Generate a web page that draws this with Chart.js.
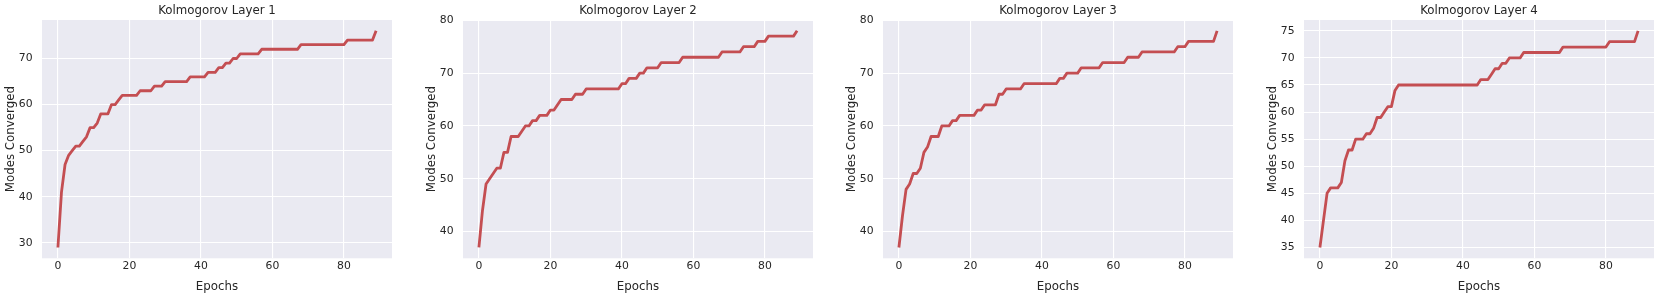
<!DOCTYPE html>
<html>
<head>
<meta charset="utf-8">
<script src="https://cdn.jsdelivr.net/npm/chart.js@4/dist/chart.umd.min.js"></script>
<style>
  html, body { margin: 0; padding: 0; background: #ffffff; overflow: hidden; }
  #wrap { position: relative; width: 1660px; height: 298px; }
  canvas { position: absolute; top: 0; }
</style>
</head>
<body>
<div id="wrap">
  <canvas id="c1"></canvas>
  <canvas id="c2"></canvas>
  <canvas id="c3"></canvas>
  <canvas id="c4"></canvas>
</div>
<script>
// ---- data ----
const epochs = Array.from({length: 90}, (_, i) => i);

const titles = ["Kolmogorov Layer 1", "Kolmogorov Layer 2", "Kolmogorov Layer 3", "Kolmogorov Layer 4"];

const layer1 = [29,41,47,49,50,51,51,52,53,55,
                55,56,58,58,58,60,60,61,62,62,
                62,62,62,63,63,63,63,64,64,64,
                65,65,65,65,65,65,65,66,66,66,
                66,66,67,67,67,68,68,69,69,70,
                70,71,71,71,71,71,71,72,72,72,
                72,72,72,72,72,72,72,72,73,73,
                73,73,73,73,73,73,73,73,73,73,
                73,74,74,74,74,74,74,74,74,76];

const layer2 = [37,44,49,50,51,52,52,55,55,58,
                58,58,59,60,60,61,61,62,62,62,
                63,63,64,65,65,65,65,66,66,66,
                67,67,67,67,67,67,67,67,67,67,
                68,68,69,69,69,70,70,71,71,71,
                71,72,72,72,72,72,72,73,73,73,
                73,73,73,73,73,73,73,73,74,74,
                74,74,74,74,75,75,75,75,76,76,
                76,77,77,77,77,77,77,77,77,78];

const layer3 = [37,43,48,49,51,51,52,55,56,58,
                58,58,60,60,60,61,61,62,62,62,
                62,62,63,63,64,64,64,64,66,66,
                67,67,67,67,67,68,68,68,68,68,
                68,68,68,68,68,69,69,70,70,70,
                70,71,71,71,71,71,71,72,72,72,
                72,72,72,72,73,73,73,73,74,74,
                74,74,74,74,74,74,74,74,75,75,
                75,76,76,76,76,76,76,76,76,78];

const layer4 = [35,40,45,46,46,46,47,51,53,53,
                55,55,55,56,56,57,59,59,60,61,
                61,64,65,65,65,65,65,65,65,65,
                65,65,65,65,65,65,65,65,65,65,
                65,65,65,65,65,66,66,66,67,68,
                68,69,69,70,70,70,70,71,71,71,
                71,71,71,71,71,71,71,71,72,72,
                72,72,72,72,72,72,72,72,72,72,
                72,73,73,73,73,73,73,73,73,75];

const series = [layer1, layer2, layer3, layer4];

const xTicks = [0, 20, 40, 60, 80];
const yTicks1 = [30, 40, 50, 60, 70];
const yTicks2 = [40, 50, 60, 70, 80];
const yTicks3 = [40, 50, 60, 70, 80];
const yTicks4 = [35, 40, 45, 50, 55, 60, 65, 70, 75];
const yTicksAll = [yTicks1, yTicks2, yTicks3, yTicks4];

// ---- styling ----
const FONT = "'DejaVu Sans', 'Liberation Sans', sans-serif";
const TEXT = "#262626";
const LINE = "#C44E52";
const BG = "#EAEAF2";

const canvasLefts = [0, 421, 841, 1262];
const CW = 398, CH = 298;
const YAXIS_W = 42, PLOT_W = 350, TOP = 20, XAXIS_H = 39.7;

const panelPlugin = {
  id: 'panel',
  beforeDraw(chart) {
    const {ctx, chartArea: a} = chart;
    ctx.save();
    ctx.fillStyle = BG;
    ctx.fillRect(a.left, a.top, a.right - a.left, a.bottom - a.top);
    ctx.restore();
  },
  afterDraw(chart) {
    const {ctx, chartArea: a} = chart;
    ctx.save();
    ctx.fillStyle = TEXT;
    ctx.font = "11.8px " + FONT;
    ctx.textAlign = 'center';
    ctx.textBaseline = 'alphabetic';
    ctx.fillText(chart.options.plugins.panel.title, (a.left + a.right) / 2, 14);
    ctx.restore();
  }
};

series.forEach((vals, i) => {
  const cv = document.getElementById('c' + (i + 1));
  cv.style.left = canvasLefts[i] + 'px';
  cv.width = CW; cv.height = CH;
  cv.style.width = CW + 'px'; cv.style.height = CH + 'px';

  const lo = Math.min(...vals), hi = Math.max(...vals);
  const pad = (hi - lo) * 0.05;
  const xlo = epochs[0], xhi = epochs[epochs.length - 1];
  const xpad = (xhi - xlo) * 0.05;
  const yt = yTicksAll[i];

  new Chart(cv, {
    type: 'line',
    data: {
      datasets: [{
        data: epochs.map((e, k) => ({x: e, y: vals[k]})),
        borderColor: LINE,
        borderWidth: 2.8,
        pointRadius: 0,
        tension: 0,
        borderJoinStyle: 'round',
        fill: false
      }]
    },
    options: {
      responsive: false,
      animation: false,
      devicePixelRatio: 1,
      layout: { padding: { top: TOP, left: 0, right: CW - YAXIS_W - PLOT_W, bottom: 0 } },
      plugins: {
        legend: { display: false },
        tooltip: { enabled: false },
        title: { display: false },
        panel: { title: titles[i] }
      },
      scales: {
        x: {
          type: 'linear',
          min: xlo - xpad,
          max: xhi + xpad,
          afterBuildTicks: s => { s.ticks = xTicks.map(v => ({value: v})); },
          afterFit: s => { s.height = XAXIS_H; },
          grid: { color: '#ffffff', lineWidth: 1.1, drawTicks: false },
          border: { display: false },
          ticks: { color: TEXT, font: { family: FONT, size: 10.8 }, padding: 1.0, maxRotation: 0, autoSkip: false },
          title: { display: true, text: 'Epochs', color: TEXT, font: { family: FONT, size: 11.8 }, padding: { top: 0, bottom: 4.4 } }
        },
        y: {
          type: 'linear',
          min: lo - pad,
          max: hi + pad,
          afterBuildTicks: s => { s.ticks = yt.map(v => ({value: v})); },
          afterFit: s => { s.width = YAXIS_W; },
          grid: { color: '#ffffff', lineWidth: 1.1, drawTicks: false },
          border: { display: false },
          ticks: { color: TEXT, font: { family: FONT, size: 10.8 }, padding: 9.5, autoSkip: false },
          title: { display: true, text: 'Modes Converged', color: TEXT, font: { family: FONT, size: 11.8 }, padding: { top: 4.1, bottom: 0 } }
        }
      }
    },
    plugins: [panelPlugin]
  });
});
</script>
</body>
</html>
